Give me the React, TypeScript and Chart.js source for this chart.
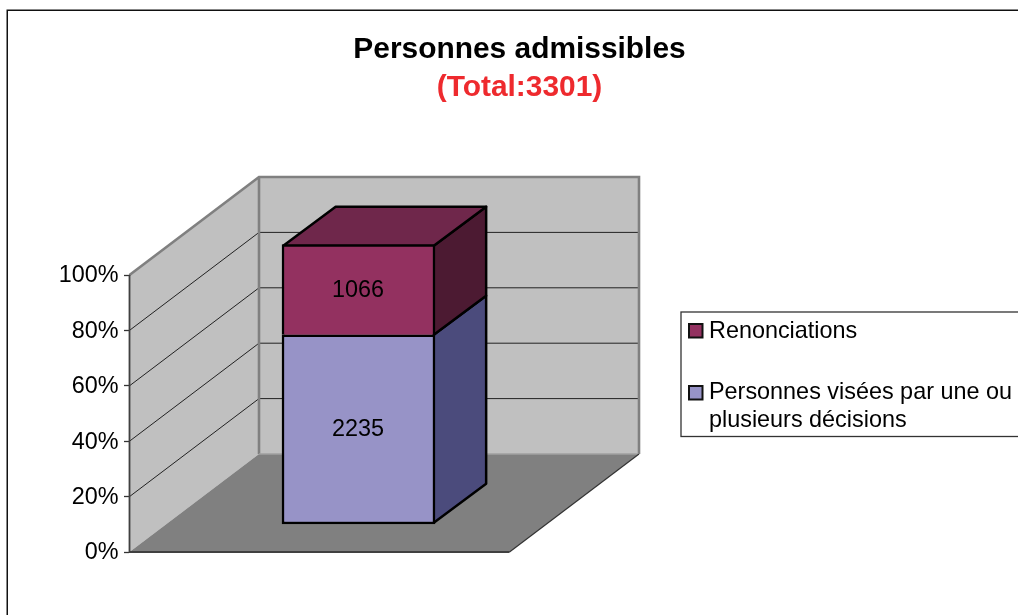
import React, { useEffect, useRef } from "react";
import { Chart, registerables } from "chart.js";

Chart.register(...registerables);

const categories: string[] = [""];
const eligibleValues: number[] = [2235];
const waiverValues: number[] = [1066];
const total = 3301;
const eligibleLabel: string[] = ["Personnes visées par une ou", "plusieurs décisions"];
const waiverLabel = "Renonciations";
const titleText = "Personnes admissibles";
const subtitleText = "(Total:3301)";
const percentTicks: number[] = [0, 20, 40, 60, 80, 100];

const FONT = "'Liberation Sans', Arial, sans-serif";
const TEXT_SIZE = 23.4;
const TITLE_SIZE = 29.9;
const LEGEND_GAP = 37;
const WALL_DX = 129.5;
const WALL_DY = -98;
const BAR_DX = 52.4;
const BAR_DY = -39;
const FLOOR_W = 380;

const scene3d = {
  id: "scene3d",
  beforeDraw(chart: any) {
    const { ctx } = chart;
    ctx.save();
    ctx.fillStyle = "#ffffff";
    ctx.fillRect(0, 0, chart.width, chart.height);
    ctx.strokeStyle = "#111111";
    ctx.lineWidth = 1.5;
    ctx.strokeRect(7.25, 10.25, 1100, 800);
    ctx.fillStyle = "#ffffff";
    ctx.strokeStyle = "#333333";
    ctx.lineWidth = 1.3;
    ctx.fillRect(681, 312, 400, 124.5);
    ctx.strokeRect(681, 312, 400, 124.5);
    ctx.restore();

    const legend = chart.legend;
    legend.left = 689 - LEGEND_GAP;
    legend.top = 320 - LEGEND_GAP;
    legend.right = 1100;
    legend.bottom = 520;
    legend.width = legend.right - legend.left;
    legend.height = legend.bottom - legend.top;

    const t = chart.titleBlock;
    t.left = 0;
    t.right = 1039;
    t.width = 1039;
    t.top = 50 - TITLE_SIZE / 2;
    t.bottom = t.top + TITLE_SIZE;
    const sub = chart.boxes.find((b: any) => b !== t && b.options && b.options.text === subtitleText);
    if (sub) {
      sub.left = 0;
      sub.right = 1039;
      sub.width = 1039;
      sub.top = 88 - TITLE_SIZE / 2;
      sub.bottom = sub.top + TITLE_SIZE;
    }
  },
  beforeDatasetsDraw(chart: any) {
    const { ctx } = chart;
    const y = chart.scales.y;
    const x0 = chart.chartArea.left - 0.5;
    const yb = y.getPixelForValue(0);
    const yt = y.getPixelForValue(100);
    ctx.save();
    // walls
    ctx.fillStyle = "#c0c0c0";
    ctx.beginPath();
    ctx.moveTo(x0, yb);
    ctx.lineTo(x0, yt);
    ctx.lineTo(x0 + WALL_DX, yt + WALL_DY);
    ctx.lineTo(x0 + WALL_DX + FLOOR_W, yt + WALL_DY);
    ctx.lineTo(x0 + WALL_DX + FLOOR_W, yb + WALL_DY);
    ctx.lineTo(x0 + WALL_DX, yb + WALL_DY);
    ctx.closePath();
    ctx.fill();
    // floor
    ctx.fillStyle = "#808080";
    ctx.beginPath();
    ctx.moveTo(x0, yb);
    ctx.lineTo(x0 + FLOOR_W, yb);
    ctx.lineTo(x0 + WALL_DX + FLOOR_W, yb + WALL_DY);
    ctx.lineTo(x0 + WALL_DX, yb + WALL_DY);
    ctx.closePath();
    ctx.fill();
    // grid lines
    ctx.strokeStyle = "#222222";
    ctx.lineWidth = 1;
    percentTicks.slice(1, -1).forEach((v) => {
      const py = y.getPixelForValue(v);
      ctx.beginPath();
      ctx.moveTo(x0, py);
      ctx.lineTo(x0 + WALL_DX, py + WALL_DY);
      ctx.lineTo(x0 + WALL_DX + FLOOR_W, py + WALL_DY);
      ctx.stroke();
    });
    // wall edges
    ctx.strokeStyle = "#808080";
    ctx.lineWidth = 2.6;
    ctx.beginPath();
    ctx.moveTo(x0, yt);
    ctx.lineTo(x0 + WALL_DX, yt + WALL_DY);
    ctx.lineTo(x0 + WALL_DX + FLOOR_W, yt + WALL_DY);
    ctx.lineTo(x0 + WALL_DX + FLOOR_W, yb + WALL_DY);
    ctx.moveTo(x0 + WALL_DX, yt + WALL_DY);
    ctx.lineTo(x0 + WALL_DX, yb + WALL_DY);
    ctx.stroke();
    ctx.strokeStyle = "#a0a0a0";
    ctx.lineWidth = 1.5;
    ctx.beginPath();
    ctx.moveTo(x0 + WALL_DX, yb + WALL_DY);
    ctx.lineTo(x0 + WALL_DX + FLOOR_W, yb + WALL_DY);
    ctx.stroke();
    // axis line and front floor edge
    ctx.strokeStyle = "#404040";
    ctx.lineWidth = 1.8;
    ctx.beginPath();
    ctx.moveTo(x0, yt);
    ctx.lineTo(x0, yb);
    ctx.lineTo(x0 + FLOOR_W, yb);
    ctx.stroke();
    ctx.strokeStyle = "#333333";
    ctx.lineWidth = 1.2;
    ctx.beginPath();
    ctx.moveTo(x0 + FLOOR_W, yb);
    ctx.lineTo(x0 + WALL_DX + FLOOR_W, yb + WALL_DY);
    ctx.stroke();

    // bar side and top faces, from the library's bar elements
    const low = chart.getDatasetMeta(0).data[0];
    const up = chart.getDatasetMeta(1).data[0];
    const r = low.x + low.width / 2 - 1.25;
    const l = low.x - low.width / 2 + 1.25;
    const face = (pts: number[][], fill: string) => {
      ctx.beginPath();
      pts.forEach((p, i) => (i ? ctx.lineTo(p[0], p[1]) : ctx.moveTo(p[0], p[1])));
      ctx.closePath();
      ctx.fillStyle = fill;
      ctx.fill();
      ctx.strokeStyle = "#000000";
      ctx.lineWidth = 2.5;
      ctx.lineJoin = "round";
      ctx.stroke();
    };
    const by = low.base - 1.25;
    const my = low.y;
    const ty = up.y + 1.25;
    face([[r, by], [r + BAR_DX, by + BAR_DY], [r + BAR_DX, my + BAR_DY], [r, my]], "#4b4b7c");
    face([[r, my], [r + BAR_DX, my + BAR_DY], [r + BAR_DX, ty + BAR_DY], [r, ty]], "#4c1a32");
    face([[l, ty], [l + BAR_DX, ty + BAR_DY], [r + BAR_DX, ty + BAR_DY], [r, ty]], "#6f274b");
    ctx.restore();
  },
  afterDatasetsDraw(chart: any) {
    const { ctx } = chart;
    ctx.save();
    ctx.fillStyle = "#000000";
    ctx.font = `${TEXT_SIZE}px ${FONT}`;
    ctx.textAlign = "center";
    ctx.textBaseline = "middle";
    chart.data.datasets.forEach((ds: any, i: number) => {
      const b = chart.getDatasetMeta(i).data[0];
      ctx.fillText(String(ds.data[0]), b.x - 0.5, (b.y + b.base) / 2 + 0.5);
    });
    ctx.restore();
  },
  afterDraw(chart: any) {
    const { ctx } = chart;
    ctx.save();
    const swatch = (y: number, color: string) => {
      ctx.fillStyle = "#ffffff";
      ctx.fillRect(685, y - 4, 22, 23);
      ctx.fillStyle = color;
      ctx.strokeStyle = "#111111";
      ctx.lineWidth = 2;
      ctx.fillRect(689, y, 13.5, 13.5);
      ctx.strokeRect(689, y, 13.5, 13.5);
    };
    swatch(324, chart.data.datasets[1].backgroundColor);
    swatch(386, chart.data.datasets[0].backgroundColor);
    ctx.restore();
  },
};

export default function App() {
  const ref = useRef<HTMLCanvasElement>(null);
  useEffect(() => {
    const canvas = ref.current;
    if (!canvas) return;
    const k = 279.5 / total;
    const chart = new Chart(canvas, {
      type: "bar",
      data: {
        labels: categories,
        datasets: [
          {
            label: eligibleLabel as any,
            data: eligibleValues,
            backgroundColor: "#9793c7",
            borderColor: "#000000",
            borderWidth: 2.5,
            borderSkipped: false,
            yAxisID: "y1",
            barThickness: 153,
            clip: false as any,
          },
          {
            label: waiverLabel,
            data: waiverValues,
            backgroundColor: "#933160",
            borderColor: "#000000",
            borderWidth: 2.5,
            borderSkipped: "start",
            yAxisID: "y1",
            barThickness: 153,
            clip: false as any,
          },
        ],
      },
      options: {
        responsive: false,
        animation: false,
        layout: { padding: { left: 0, top: 216 - (2 * TITLE_SIZE - 59), right: 431, bottom: 63 } },
        scales: {
          x: { display: false, stacked: true },
          y: {
            position: "left",
            min: 0,
            max: 100,
            afterFit: (s: any) => {
              s.width = 130;
            },
            afterBuildTicks: (s: any) => {
              s.ticks = percentTicks.map((value) => ({ value }));
            },
            ticks: {
              callback: (v: any) => `${v}%`,
              color: "#000000",
              font: { family: FONT, size: TEXT_SIZE },
              padding: 5.5,
              labelOffset: 1,
            },
            grid: {
              drawOnChartArea: false,
              drawTicks: true,
              tickLength: 6,
              tickColor: "#333333",
              tickWidth: 1.3,
            },
            border: { display: true, color: "#404040", width: 1.5 },
          },
          y1: {
            display: false,
            stacked: true,
            min: -28 / k,
            max: -28 / k + 277 / k,
          },
        },
        plugins: {
          tooltip: { enabled: false },
          title: {
            display: true,
            text: titleText,
            color: "#000000",
            font: { family: FONT, size: TITLE_SIZE, weight: "bold", lineHeight: 1 },
            padding: 0,
          },
          subtitle: {
            display: true,
            text: subtitleText,
            color: "#ee2a2e",
            font: { family: FONT, size: TITLE_SIZE, weight: "bold", lineHeight: 1 },
            padding: 0,
          },
          legend: {
            display: true,
            position: "chartArea" as any,
            align: "start",
            reverse: true,
            labels: {
              color: "#000000",
              font: { family: FONT, size: TEXT_SIZE, lineHeight: 28 / TEXT_SIZE },
              boxWidth: 8.3,
              boxHeight: 15,
              padding: LEGEND_GAP,
            },
          },
        },
      },
      plugins: [scene3d],
    } as any);
    return () => chart.destroy();
  }, []);
  return (
    <div style={{ position: "absolute", left: 0, top: 0, width: 1018, height: 615, overflow: "hidden" }}>
      <canvas ref={ref} width={1018} height={615} style={{ display: "block" }} />
    </div>
  );
}
